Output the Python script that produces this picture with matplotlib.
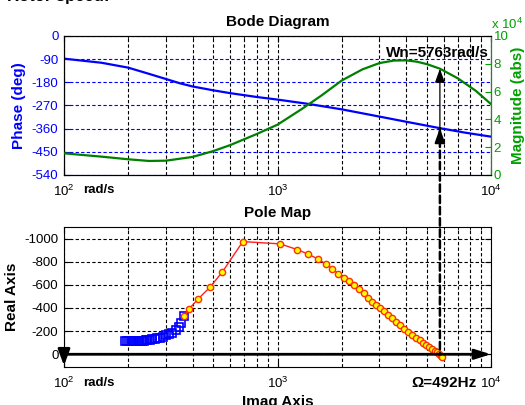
import matplotlib
matplotlib.use('Agg')
import matplotlib.pyplot as plt
from matplotlib.patches import ConnectionPatch
from matplotlib.ticker import FuncFormatter, LogLocator, NullFormatter
import numpy as np

plt.rcParams['font.family'] = ['Liberation Sans', 'DejaVu Sans']
plt.rcParams['mathtext.fontset'] = 'custom'
plt.rcParams['mathtext.rm'] = 'Liberation Sans'
plt.rcParams['axes.unicode_minus'] = False

# ---- data ----
freq_phase = [100, 150, 200, 250, 300, 350, 400, 500, 600, 700, 800, 1000, 1400, 2000, 3000, 4000, 5763, 7500, 10000]
phase = [-88, -104, -123, -147, -167, -184, -196, -211, -222, -230, -237, -247, -264, -285, -313, -333, -358, -375, -391]

freq_mag = [100, 150, 200, 250, 300, 400, 500, 600, 800, 1000, 1300, 1600, 2000, 2500, 3000, 3500, 4000, 4500, 5000, 5763, 7000, 8500, 10000]
mag = [15600, 13200, 11300, 10100, 10300, 13000, 17200, 21500, 29500, 36200, 47500, 57000, 68000, 76000, 80500, 82300,
       82500, 81500, 79800, 76500, 69500, 60500, 51000]

wn = 5763
phase_wn = -358
mag_wn = 76500

sq_freq = [193, 197, 201, 205, 209, 213, 217, 221, 225, 229, 233, 237, 241, 246, 252, 259, 267, 274, 281, 290, 300,
           310, 320, 334, 346, 353, 365]
sq_real = [-115, -115, -115, -115, -115, -115, -116, -116, -117, -117, -118, -119, -120, -122, -125, -128, -133, -137,
           -141, -150, -164, -173, -184, -208, -236, -270, -327]

pole_freq = [365, 386, 426, 483, 551, 688, 1028, 1238, 1394, 1553, 1687, 1806, 1927, 2049, 2169, 2290, 2416, 2542,
             2654, 2771, 2893, 3021, 3154, 3293, 3439, 3590, 3749, 3914, 4086, 4267, 4455, 4626, 4803, 4961, 5124,
             5293, 5438, 5586, 5707, 5832, 5895]
pole_real = [-327, -394, -480, -580, -710, -974, -954, -905, -865, -822, -779, -739, -696, -661, -632, -595, -560,
             -528, -483, -453, -427, -401, -371, -341, -310, -280, -250, -220, -194, -168, -142, -121, -99, -78, -60,
             -43, -30, -17, -4, 13, 26]

phase_ticks = [0, -90, -180, -270, -360, -450, -540]
mag_ticks = [0, 20000, 40000, 60000, 80000, 100000]
real_ticks = [0, -200, -400, -600, -800, -1000]

blue = '#0000ff'
green = '#008000'
green_txt = '#00a000'
dash = (0, (3, 2))

W, H = 525, 405
fig = plt.figure(figsize=(W / 100, H / 100), dpi=100)
ax1 = fig.add_axes([64 / W, 1 - 175 / H, 427 / W, 139 / H])
ax2 = ax1.twinx()
ax3 = fig.add_axes([64 / W, 1 - 367 / H, 427 / W, 140 / H])


def log_x(ax):
    ax.set_xscale('log')
    ax.set_xlim(100, 10000)
    ax.xaxis.set_major_locator(LogLocator(base=10, numticks=5))
    ax.xaxis.set_minor_locator(LogLocator(base=10, subs=np.arange(2, 10), numticks=20))
    ax.xaxis.set_minor_formatter(NullFormatter())
    ax.grid(True, which='both', axis='x', color='k', ls=dash, lw=0.8)
    ax.tick_params(axis='x', which='both', direction='in', top=True, labelsize=9.5, pad=6)
    ax.tick_params(axis='x', which='major', length=4)
    ax.tick_params(axis='x', which='minor', length=2.5)


# ---- Bode diagram ----
log_x(ax1)
ax1.plot(freq_phase, phase, color=blue, lw=1.6, zorder=3)
ax1.set_ylim(-540, 0)
ax1.set_yticks(phase_ticks)
ax1.grid(True, axis='y', color=blue, ls=dash, lw=0.8)
ax1.tick_params(axis='y', direction='in', colors=blue, labelsize=9.5, length=4, pad=4)
ax1.set_ylabel('Phase (deg)', color=blue, fontsize=11, fontweight='bold', labelpad=4)
ax1.set_title('Bode Diagram', fontsize=11, fontweight='bold', pad=7)

ax2.plot(freq_mag, mag, color=green, lw=1.6, zorder=3)
ax2.set_ylim(0, 100000)
ax2.set_yticks(mag_ticks)
ax2.yaxis.set_major_formatter(FuncFormatter(lambda v, _: f'{v / 1e4:g}'))
ax2.tick_params(axis='y', direction='in', colors=green_txt, labelsize=9.5, length=4, pad=2)
ax2.spines['right'].set_color(green_txt)
ax2.set_ylabel('Magnitude (abs)', color=green_txt, fontsize=11, fontweight='bold', labelpad=2)
ax2.text(1.0, 1.03, r'x 10$^4$', transform=ax2.transAxes, color=green_txt, fontsize=9.5, ha='left', va='bottom')
ax2.text(0.995, 0.88, 'Wn=%drad/s' % wn, transform=ax2.transAxes, fontsize=11, fontweight='bold',
         ha='right', va='center')

arrow_head = dict(arrowstyle='-|>,head_length=0.7,head_width=0.25', color='k', lw=0.9, mutation_scale=12,
                  shrinkA=0, shrinkB=0)
ax2.annotate('', xy=(wn, mag_wn), xytext=(wn, phase_wn), textcoords=ax1.transData, arrowprops=arrow_head)
ax1.annotate('', xy=(wn, phase_wn), xytext=(0, -11), textcoords='offset points',
             arrowprops=dict(arrow_head, lw=1.6))

# ---- Pole map ----
log_x(ax3)
ax3.plot(sq_freq, sq_real, ls='none', marker='s', ms=5.5, mfc='none', mec=blue, mew=1.2, zorder=3)
ax3.plot(pole_freq, pole_real, color='#ff2020', lw=1, marker='o', ms=4.5, mfc='#ffff00', mec='#ff3000',
         mew=1, zorder=4)
ax3.set_ylim(110, -1100)
ax3.set_yticks(real_ticks)
ax3.grid(True, axis='y', color='k', ls=dash, lw=0.8)
ax3.tick_params(axis='y', direction='in', right=True, labelsize=9.5, length=4, pad=4)
ax3.set_ylabel('Real Axis', fontsize=11, fontweight='bold', labelpad=4)
ax3.set_xlabel('Imag Axis', fontsize=11, fontweight='bold', labelpad=3)
ax3.set_title('Pole Map', fontsize=11, fontweight='bold', pad=7)

ax3.annotate('', xy=(1.0, 0), xycoords=('axes fraction', 'data'), xytext=(0.0, 0),
             textcoords=('axes fraction', 'data'),
             arrowprops=dict(arrowstyle='-|>,head_length=0.8,head_width=0.25', color='k', lw=2,
                             mutation_scale=12, shrinkA=0, shrinkB=0), zorder=6)
ax3.annotate('', xy=(0.0, 0.01), xycoords='axes fraction', xytext=(0.0, 0), textcoords=('axes fraction', 'data'),
             arrowprops=dict(arrowstyle='-|>,head_length=0.8,head_width=0.3', color='k', lw=2,
                             mutation_scale=12, shrinkA=0, shrinkB=0), zorder=6)

con = ConnectionPatch(xyA=(wn, phase_wn), coordsA=ax1.transData, xyB=(wn, 0), coordsB=ax3.transData,
                      color='k', lw=1.8, ls=(0, (3, 1.5)), zorder=10)
fig.add_artist(con)

fig.text(83 / W, 1 - 190 / H, 'rad/s', fontsize=9.5, fontweight='bold', va='center')
fig.text(83 / W, 1 - 383 / H, 'rad/s', fontsize=9.5, fontweight='bold', va='center')
fig.text(477 / W, 1 - 383 / H, '\u03a9=492Hz', fontsize=11, fontweight='bold', va='center', ha='right')
# sentence of the surrounding document, mostly cut off at the top edge
fig.text(7 / W, 1 - 1 / H, 'Rotor speed:', fontsize=12, fontweight='bold', va='baseline', color='k')

fig.savefig('out.png', dpi=100)
